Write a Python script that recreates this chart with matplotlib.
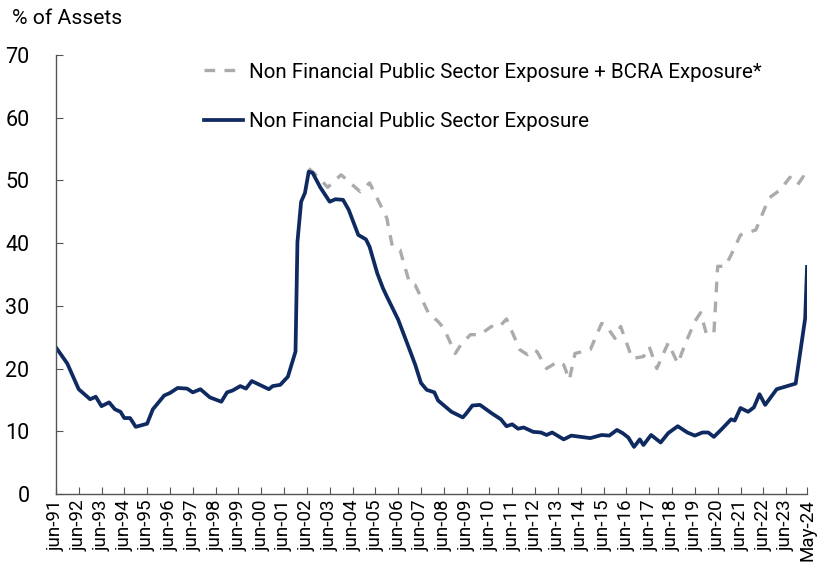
import pandas as pd
import matplotlib.pyplot as plt

# Non financial public sector exposure (% of assets)
nfps_dates = [
    "1991-06", "1991-12", "1992-06", "1992-12", "1993-03", "1993-06", "1993-10", "1994-01",
    "1994-04", "1994-06", "1994-09", "1994-12", "1995-06", "1995-09", "1996-03", "1996-06",
    "1996-10", "1997-03", "1997-06", "1997-10", "1998-03", "1998-09", "1998-12", "1999-03",
    "1999-07", "1999-10", "2000-01", "2000-10", "2000-12", "2001-04", "2001-08", "2001-12",
    "2002-01", "2002-03", "2002-05", "2002-07", "2002-09", "2003-01", "2003-06", "2003-09",
    "2004-01", "2004-04", "2004-09", "2005-01", "2005-03", "2005-07", "2005-10", "2005-12",
    "2006-06", "2006-12", "2007-03", "2007-06", "2007-09", "2008-01", "2008-03", "2008-10",
    "2009-04", "2009-06", "2009-09", "2010-01", "2010-07", "2010-12", "2011-03", "2011-06",
    "2011-09", "2011-12", "2012-05", "2012-09", "2012-12", "2013-03", "2013-09", "2014-01",
    "2014-11", "2015-05", "2015-09", "2016-01", "2016-04", "2016-07", "2016-10", "2017-01",
    "2017-03", "2017-07", "2017-12", "2018-04", "2018-09", "2019-02", "2019-06", "2019-10",
    "2020-01", "2020-04", "2020-08", "2021-01", "2021-03", "2021-06", "2021-10", "2022-01",
    "2022-04", "2022-07", "2023-01", "2023-11", "2024-04", "2024-05",
]
nfps_values = [
    23.4, 20.8, 16.7, 15.1, 15.5, 14.0, 14.6, 13.5,
    13.1, 12.1, 12.1, 10.7, 11.2, 13.5, 15.7, 16.1,
    16.9, 16.8, 16.2, 16.7, 15.4, 14.7, 16.2, 16.5,
    17.2, 16.8, 18.0, 16.7, 17.2, 17.4, 18.7, 22.7,
    40.2, 46.6, 48.0, 51.4, 51.2, 48.9, 46.6, 47.0,
    46.9, 45.3, 41.3, 40.6, 39.4, 35.2, 32.8, 31.5,
    27.8, 23.0, 20.6, 17.7, 16.6, 16.2, 14.9, 13.1,
    12.2, 12.9, 14.1, 14.2, 12.9, 11.9, 10.8, 11.1,
    10.4, 10.6, 9.9, 9.8, 9.4, 9.8, 8.7, 9.3,
    8.9, 9.4, 9.3, 10.2, 9.7, 9.0, 7.5, 8.7,
    7.8, 9.4, 8.2, 9.7, 10.8, 9.8, 9.3, 9.8,
    9.8, 9.1, 10.3, 11.9, 11.7, 13.7, 13.1, 13.8,
    15.9, 14.2, 16.7, 17.6, 28.0, 36.2,
]

# Non financial public sector exposure + BCRA exposure
total_dates = [
    "2002-07", "2002-10", "2003-05", "2003-12", "2004-10", "2005-03", "2005-12", "2006-03",
    "2006-07", "2006-12", "2007-03", "2007-10", "2008-03", "2008-06", "2008-12", "2009-03",
    "2009-08", "2010-01", "2010-07", "2010-11", "2011-03", "2011-07", "2011-10", "2012-02",
    "2012-05", "2012-07", "2012-12", "2013-06", "2013-09", "2013-12", "2014-03", "2014-11",
    "2015-05", "2015-07", "2015-12", "2016-03", "2016-09", "2017-03", "2017-06", "2017-10",
    "2018-04", "2018-09", "2019-01", "2019-06", "2019-09", "2019-12", "2020-04", "2020-06",
    "2020-10", "2021-01", "2021-06", "2022-02", "2022-09", "2023-03", "2023-08", "2023-12",
    "2024-03", "2024-05",
]
total_values = [
    51.9, 51.1, 48.9, 50.9, 48.2, 49.6, 44.0, 39.4,
    38.9, 33.6, 33.3, 28.8, 27.5, 26.4, 22.4, 23.8,
    25.4, 25.4, 26.7, 26.6, 27.9, 25.1, 23.0, 22.2,
    23.0, 22.7, 20.0, 21.1, 20.6, 18.2, 22.4, 23.0,
    27.2, 27.0, 24.8, 26.7, 21.6, 21.9, 23.5, 20.0,
    24.1, 20.8, 24.0, 27.5, 28.9, 25.6, 25.6, 36.3,
    36.3, 38.1, 41.3, 42.1, 47.2, 48.5, 50.5, 49.3,
    50.6, 49.8,
]

tick_dates = [f"{y}-06" for y in range(1991, 2024)] + ["2024-05"]
tick_labels = [f"jun-{y % 100:02d}" for y in range(1991, 2024)] + ["May-24"]

plt.rcParams['font.family'] = ['Roboto', 'DejaVu Sans']

fig = plt.figure(figsize=(8.21, 5.73), dpi=100)
ax = fig.add_axes([0.068, 0.138, 0.915, 0.766])

ax.plot(pd.to_datetime(total_dates), total_values, color='#ababab', lw=2.4,
        dashes=(3.2, 2.8), label='Non Financial Public Sector Exposure + BCRA Exposure*')
ax.plot(pd.to_datetime(nfps_dates), nfps_values, color='#0e2a60', lw=2.7,
        label='Non Financial Public Sector Exposure')

ax.set_xlim(pd.Timestamp("1991-06"), pd.Timestamp("2024-05"))
ax.set_ylim(0, 70)
ax.set_yticks(range(0, 71, 10))
ax.set_xticks(pd.to_datetime(tick_dates))
ax.set_xticklabels(tick_labels, rotation=90, fontsize=13.5)
ax.tick_params(axis='y', labelsize=15.5, direction='in', length=5, color='#555555', pad=19)
ax.tick_params(axis='x', direction='in', length=5, color='#555555', pad=4)

for side in ['top', 'right']:
    ax.spines[side].set_visible(False)
for side in ['left', 'bottom']:
    ax.spines[side].set_color('#555555')
    ax.spines[side].set_linewidth(1.0)

fig.text(0.015, 0.968, '% of Assets', fontsize=15.2, va='center', ha='left')

ax.legend(loc='upper left', bbox_to_anchor=(0.172, 1.025), frameon=False, fontsize=14.8,
          handlelength=1.9, handletextpad=0.3, labelspacing=1.5)

fig.savefig('out.png', dpi=100)
